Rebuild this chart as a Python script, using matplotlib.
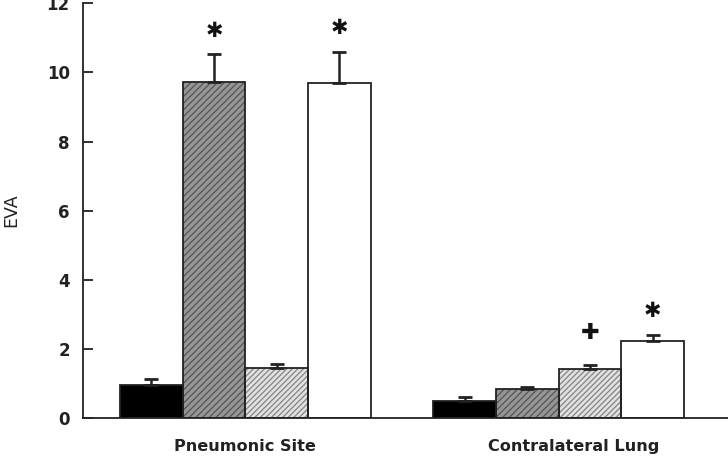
import numpy as np
import matplotlib.pyplot as plt

plt.rcParams['hatch.linewidth'] = 1.0

# Data
groups = ["Pneumonic Site", "Contralateral Lung"]
means_g1 = [0.95, 9.72, 1.45, 9.68]
errs_g1 = [0.17, 0.80, 0.13, 0.91]
means_g2 = [0.49, 0.84, 1.43, 2.22]
errs_g2 = [0.12, 0.06, 0.12, 0.19]
marks_g1 = ["", "*", "", "*"]
marks_g2 = ["", "", "+", "*"]

faces = ["black", "#969696", "#e2e2e2", "white"]
hatch_cols = ["black", "#5a5a5a", "#8a8a8a", "black"]
hatches = [None, "/////", "//////", None]

fig = plt.figure(figsize=(7.28, 4.59), dpi=100)
ax = fig.add_axes([0.114, 0.089, 0.886, 0.904])

pos_g1 = np.arange(4)
pos_g2 = np.arange(4) + 5

for pos, means, errs, marks in [(pos_g1, means_g1, errs_g1, marks_g1),
                                (pos_g2, means_g2, errs_g2, marks_g2)]:
    for i in range(4):
        ax.bar(pos[i], means[i], width=1.0, color=faces[i], edgecolor=hatch_cols[i],
               hatch=hatches[i], linewidth=0, zorder=2)
        ax.bar(pos[i], means[i], width=1.0, fill=False, edgecolor="#222222",
               linewidth=1.3, zorder=3)
        ax.errorbar(pos[i], means[i], yerr=[[0], [errs[i]]], fmt="none",
                    ecolor="#222222", elinewidth=1.8, capsize=5, capthick=2, zorder=4)
        if marks[i] == "*":
            ax.text(pos[i], means[i] + errs[i] + 0.68, "\u2731", ha="center", va="center",
                    fontsize=15, color="#111111", family="DejaVu Sans")
        elif marks[i] == "+":
            ax.text(pos[i], means[i] + errs[i] + 0.92, "\u271a", ha="center", va="center",
                    fontsize=16, color="#111111", family="DejaVu Sans")

ax.set_xlim(-1.09, 9.2)
ax.set_ylim(0, 12)
ax.set_yticks([0, 2, 4, 6, 8, 10, 12])
ax.set_xticks([1.5, 6.74])
ax.set_xticklabels(groups, fontsize=11.6, fontweight="bold", color="#222222",
                   family="DejaVu Sans")
ax.tick_params(axis="x", length=0, pad=15)
ax.tick_params(axis="y", direction="in", length=7, width=1.3, labelsize=12, pad=9.5,
               colors="#222222")
for lbl in ax.get_yticklabels():
    lbl.set_family("DejaVu Sans")
    lbl.set_fontweight("bold")
ax.set_ylabel("EVA", fontsize=12.5, family="DejaVu Sans", color="#222222")
ax.yaxis.set_label_coords(-0.097, 0.5)
ax.spines["top"].set_visible(False)
ax.spines["right"].set_visible(False)
for s in ["left", "bottom"]:
    ax.spines[s].set_linewidth(1.3)
    ax.spines[s].set_color("#222222")

fig.savefig("out.png", dpi=100)
